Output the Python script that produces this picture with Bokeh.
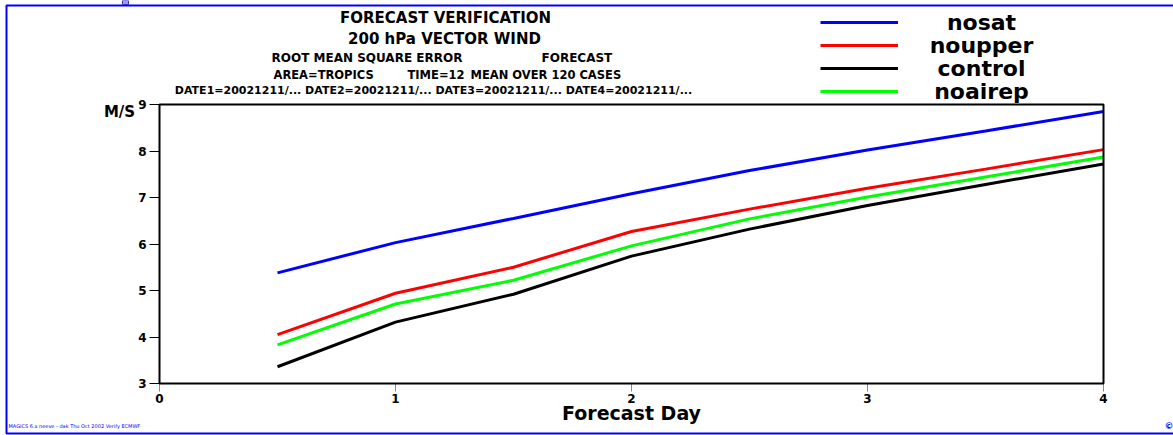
from bokeh.plotting import figure
from bokeh.models import (Range1d, LinearAxis, FixedTicker, Label, Legend, LegendItem,
                          BoxAnnotation)
from bokeh.embed import file_html
from bokeh.resources import INLINE

# ---- data ----
days = [0.5, 1.0, 1.5, 2.0, 2.5, 3.0, 3.5, 4.0]
nosat = [5.38, 6.03, 6.55, 7.08, 7.58, 8.02, 8.43, 8.85]
noupper = [4.05, 4.94, 5.50, 6.27, 6.75, 7.20, 7.61, 8.03]
control = [3.36, 4.32, 4.92, 5.74, 6.32, 6.83, 7.28, 7.72]
noairep = [3.83, 4.71, 5.22, 5.96, 6.54, 7.01, 7.44, 7.87]
series_names = ["nosat", "noupper", "control", "noairep"]
series_colors = ["#0000ff", "#ff0000", "#000000", "#00ff00"]
x_ticks = [0, 1, 2, 3, 4]
y_ticks = [3, 4, 5, 6, 7, 8, 9]
title_lines = ["FORECAST VERIFICATION", "200 hPa VECTOR WIND"]
sub1_parts = ["ROOT MEAN SQUARE ERROR", "FORECAST"]
sub2_parts = ["AREA=TROPICS", "TIME=12", "MEAN OVER 120 CASES"]
sub3 = "DATE1=20021211/... DATE2=20021211/... DATE3=20021211/... DATE4=20021211/..."
x_label = "Forecast Day"
y_label = "M/S"
footer = "MAGICS 6.x neeve - dak Thu Oct 2002 Verify ECMWF"

W, H = 1173, 435
FL, FR, FT, FB = 159, 1103, 104, 383
XMIN, XMAX, YMIN, YMAX = 0, 4, 3, 9
FONT = "DejaVu Sans"

def dx(px):
    return XMIN + (px - FL) * (XMAX - XMIN) / (FR - FL)

def dy(py):
    return YMAX - (py - FT) * (YMAX - YMIN) / (FB - FT)

p = figure(width=W, height=H, output_backend="svg", toolbar_location=None,
           x_range=Range1d(dx(0), dx(W)), y_range=Range1d(dy(H), dy(0)),
           x_axis_location=None, y_axis_location=None, min_border=0)
p.grid.visible = False
p.outline_line_color = None
p.background_fill_color = "white"
p.border_fill_color = "white"

yax = LinearAxis(ticker=FixedTicker(ticks=y_ticks), fixed_location=XMIN)
yax.axis_line_color = None
yax.major_tick_out = 10
yax.major_tick_in = 0
yax.major_tick_line_color = "black"
yax.major_tick_line_width = 1
yax.minor_tick_line_color = None
yax.major_label_standoff = 3
yax.major_label_text_font = FONT
yax.major_label_text_font_style = "bold"
yax.major_label_text_font_size = "12px"
yax.major_label_text_color = "black"
p.add_layout(yax, "left")

xax = LinearAxis(ticker=FixedTicker(ticks=x_ticks), fixed_location=YMIN)
xax.axis_line_color = None
xax.major_tick_out = 8
xax.major_tick_in = 0
xax.major_tick_line_color = "#888888"
xax.minor_tick_line_color = None
xax.major_label_standoff = 2
xax.major_label_text_font = FONT
xax.major_label_text_font_style = "bold"
xax.major_label_text_font_size = "12px"
xax.major_label_text_color = "black"
p.add_layout(xax, "below")

# plot frame
p.add_layout(BoxAnnotation(left=XMIN, right=XMAX, bottom=YMIN, top=YMAX, fill_alpha=0,
                           line_color="black", line_alpha=1, line_width=2))

series = [nosat, noupper, control, noairep]
items = []
for name, vals, col in zip(series_names, series, series_colors):
    r = p.line(days, vals, line_color=col, line_width=3)
    items.append(LegendItem(label=" ", renderers=[r]))

leg = Legend(items=items, location=(820, H - 101))
leg.glyph_width = 78
leg.glyph_height = 20
leg.label_height = 20
leg.label_width = 1
leg.spacing = 3
leg.padding = 0
leg.margin = 0
leg.border_line_color = None
leg.background_fill_alpha = 0
leg.label_text_font_size = "4px"
p.add_layout(leg, "center")

def lab(text, px, py, size, color="black", align="center", bold=True):
    p.add_layout(Label(x=dx(px), y=dy(py), text=text, text_align=align,
                       text_baseline="middle", text_font=FONT,
                       text_font_style="bold" if bold else "normal",
                       text_font_size=size, text_color=color))

lab(title_lines[0], 445, 17, "15px")
lab(title_lines[1], 444, 38, "15px")
lab(sub1_parts[0], 271, 57, "12px", align="left")
lab(sub1_parts[1], 541, 57, "12px", align="left")
for part, px in zip(sub2_parts, [273, 407, 470]):
    lab(part, px, 74, "11.5px", align="left")
lab(sub3, 433, 90, "11px")
lab(x_label, 631, 412, "19px")
lab(y_label, 119, 111, "15px")
for name, py in zip(series_names, [22, 45, 68, 91]):
    lab(name, 981, py, "22px")
lab(footer, 8, 425, "5px", color="#0000ff", align="left", bold=False)
lab("\u00a9", 1164, 425, "9px", color="#0000ff", align="left")

# outer blue border and small marker at top
p.add_layout(BoxAnnotation(left=dx(6), right=dx(W + 10), top=dy(5), bottom=dy(433),
                           fill_alpha=0, line_color="#0000ff", line_alpha=1, line_width=2))
p.add_layout(BoxAnnotation(left=dx(122), right=dx(128), top=dy(0), bottom=dy(4),
                           fill_color="#9999ff", fill_alpha=1, line_color="#3333cc",
                           line_alpha=1, line_width=1))

open("out.html", "w").write(file_html(p, INLINE))
